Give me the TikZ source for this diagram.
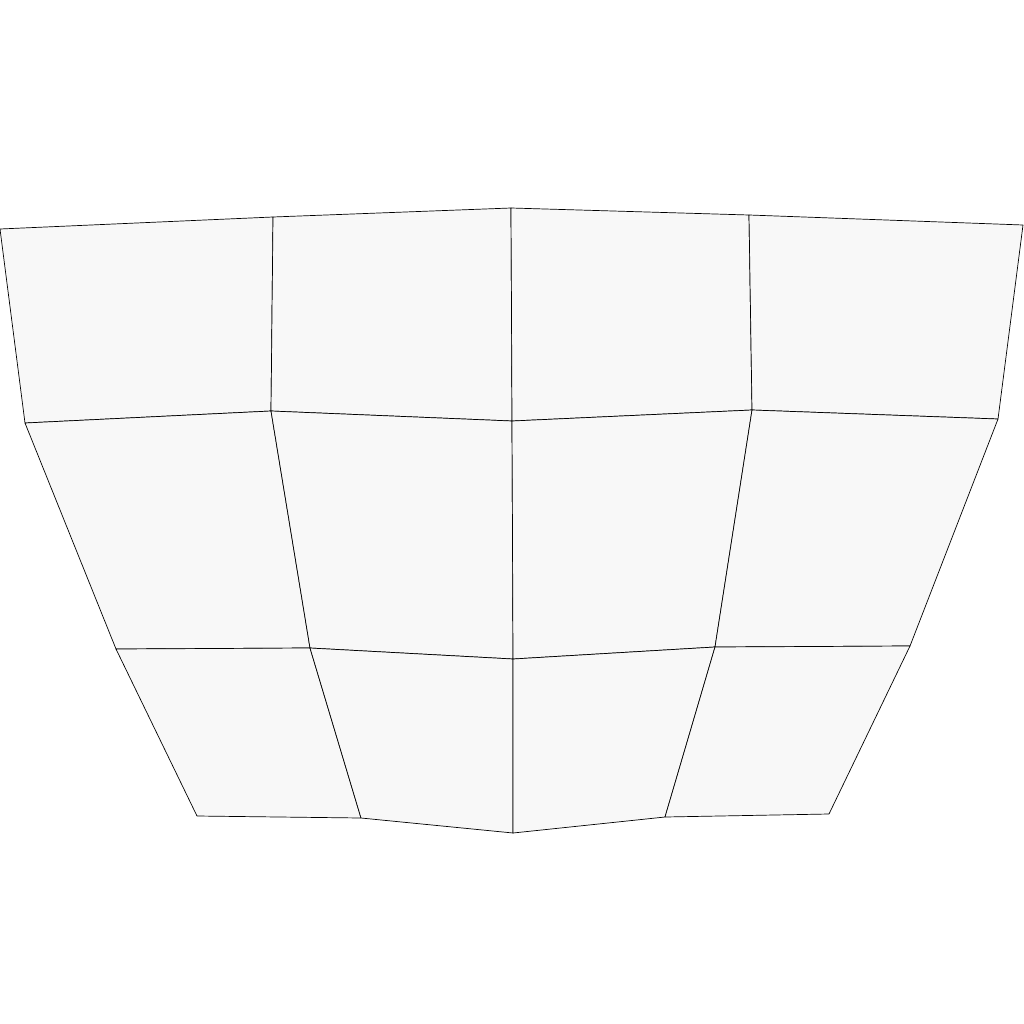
\documentclass[tikz,border=0pt]{standalone}
\begin{document}
\begin{tikzpicture}[x=1pt,y=-1pt,cell/.style={draw=black,fill=cellgray,line width=0.7pt,line join=round}]
\definecolor{cellgray}{HTML}{F8F8F8}
\useasboundingbox (0,0) rectangle (1024,1024);
% row 0
\coordinate (a0) at (0,229); \coordinate (a1) at (273,217); \coordinate (a2) at (511,208); \coordinate (a3) at (749,215); \coordinate (a4) at (1023,225);
% row 1
\coordinate (b0) at (25,423); \coordinate (b1) at (271,411); \coordinate (b2) at (512,421); \coordinate (b3) at (752,410); \coordinate (b4) at (998,419);
% row 2
\coordinate (c0) at (116,649); \coordinate (c1) at (310,648); \coordinate (c2) at (513,659); \coordinate (c3) at (715,647); \coordinate (c4) at (910,646);
% row 3
\coordinate (d0) at (197,816); \coordinate (d1) at (361,818); \coordinate (d2) at (513,833); \coordinate (d3) at (665,817); \coordinate (d4) at (829,814);
\foreach \i/\j in {0/1,1/2,2/3,3/4}{
  \path[cell] (a\i) -- (a\j) -- (b\j) -- (b\i) -- cycle;
  \path[cell] (b\i) -- (b\j) -- (c\j) -- (c\i) -- cycle;
  \path[cell] (c\i) -- (c\j) -- (d\j) -- (d\i) -- cycle;
}
\end{tikzpicture}
\end{document}
